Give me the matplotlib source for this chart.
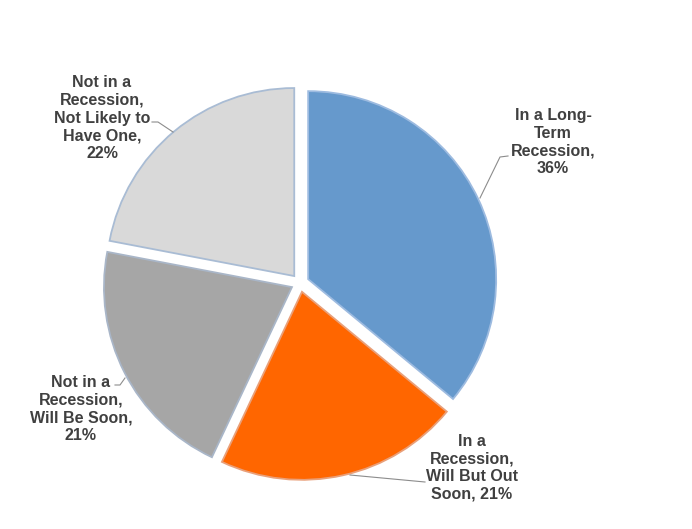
import matplotlib
matplotlib.use("Agg")
import matplotlib.pyplot as plt

# data: share of answers, clockwise from 12 o'clock
labels = ["In a Long-\nTerm\nRecession,\n36%",
          "In a\nRecession,\nWill But Out\nSoon, 21%",
          "Not in a\nRecession,\nWill Be Soon,\n21%",
          "Not in a\nRecession,\nNot Likely to\nHave One,\n22%"]
shares = [36, 21, 21, 22]
colors = ["#6699cc", "#ff6600", "#a6a6a6", "#d9d9d9"]
edges = ["#9dbbe0", "#e9a07a", "#a9b6c8", "#a9bcd4"]

# pixel layout of the picture
CX, CY, R = 300, 283, 188
W, H = 692, 529


def px(x, y):
    # picture pixel -> data coords (pie radius = 1)
    return (x - CX) / R, (CY - y) / R


fig = plt.figure(figsize=(W / 100, H / 100), dpi=100)
ax = fig.add_axes([0, 0, 1, 1])

wedges, _ = ax.pie(shares, colors=colors, startangle=90, counterclock=False,
                   explode=[0.048] * 4, radius=1,
                   wedgeprops=dict(linewidth=1.3))
for w, e in zip(wedges, edges):
    w.set_edgecolor(e)

# pie() resets the limits, so set them afterwards
ax.set_xlim(-CX / R, (W - CX) / R)
ax.set_ylim(-(H - CY) / R, CY / R)
ax.axis("off")

# label placement (pixel centres) and leader lines
label_pos = [(553, 142), (472, 468), (81, 409), (102, 118)]
leaders = [[(480, 198), (500, 157), (508, 156)],
           [(350, 475), (425, 482)],
           [(125, 378), (120, 385), (115, 385)],
           [(173, 132), (158, 122), (152, 122)]]

for text, pos, line in zip(labels, label_pos, leaders):
    x, y = px(*pos)
    ax.text(x, y, text, ha="center", va="center", fontsize=11.5,
            fontweight="bold", family="Liberation Sans", color="#404040",
            linespacing=1.22)
    pts = [px(*p) for p in line]
    ax.plot([p[0] for p in pts], [p[1] for p in pts], color="#8c8c8c",
            linewidth=0.8)

fig.savefig("out.png", dpi=100)
